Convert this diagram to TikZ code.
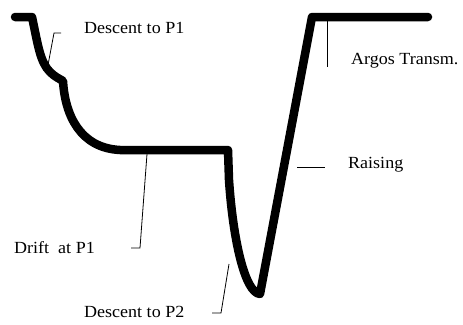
\documentclass[tikz,border=0pt]{standalone}
\usepackage{fontspec}
\setmainfont{Liberation Serif}[FakeStretch=1.06]
\usepackage{tikz}
\usetikzlibrary{positioning, calc}
\tikzstyle{profile} = [line width=8.5pt, line cap=round, line join=round, black]
\tikzstyle{leader} = [line width=0.8pt, black]
\tikzstyle{lbl} = [inner sep=0pt, anchor=base west, font=\fontsize{17}{20}\selectfont]

\begin{document}
\begin{tikzpicture}[x=1pt, y=-1pt]
    \useasboundingbox (0,0) rectangle (463,324);

    % Float depth profile
    \draw[profile] (15,17) -- (32,17)
        .. controls (38,45) and (40,62) .. (50,72)
        .. controls (55,77) and (60,79) .. (63,81)
        .. controls (65,115) and (80,148) .. (120,150)
        -- (228,150) -- (229,180)
        .. controls (233,240) and (245,293) .. (260,294)
        -- (312,17) -- (428,17);

    % Labels
    \node[lbl] (desc1) at (84,33) {Descent to P1};
    \node[lbl] (drift) at (14,253) {Drift\ \ at P1};
    \node[lbl] (desc2) at (84,317) {Descent to P2};
    \node[lbl] (rais) at (348,168) {Raising};
    \node[lbl] (argos) at (351,64) {Argos Transm.};

    % Leader points
    \coordinate (d1a) at (48,65);
    \coordinate (d1b) at (54,33);
    \coordinate (d1c) at (61,33);
    \coordinate (dra) at (147,154);
    \coordinate (drb) at (140,248);
    \coordinate (drc) at (131,248);
    \coordinate (d2a) at (229,264);
    \coordinate (d2b) at (221,313);
    \coordinate (d2c) at (212,313);
    \coordinate (ra) at (297,167);
    \coordinate (rb) at (325,167);
    \coordinate (aa) at (327,21);
    \coordinate (ab) at (327,67);

    % Leaders
    \draw[leader] (d1a) -- (d1b) -- (d1c);
    \draw[leader] (dra) -- (drb) -- (drc);
    \draw[leader] (d2a) -- (d2b) -- (d2c);
    \draw[leader] (ra) -- (rb);
    \draw[leader] (aa) -- (ab);
\end{tikzpicture}
\end{document}
